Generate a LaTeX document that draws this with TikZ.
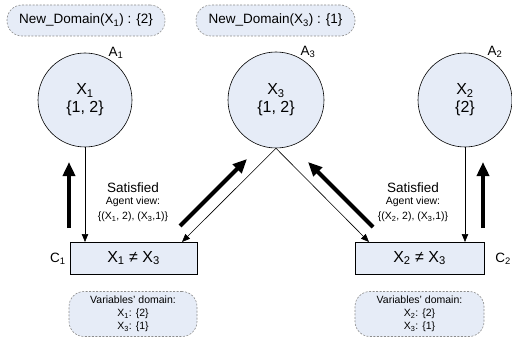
\documentclass[tikz,border=0pt]{standalone}
\usepackage{fontspec}
\setmainfont{Liberation Sans}
\usetikzlibrary{arrows.meta}
\definecolor{nodefill}{RGB}{230,236,247}
\definecolor{pillborder}{RGB}{140,140,140}
\tikzset{
  agent/.style={circle, draw=black, fill=nodefill, line width=0.6pt, minimum size=94pt, inner sep=0pt, align=center, font=\fontsize{16}{19}\selectfont},
  cbox/.style={rectangle, draw=black, fill=nodefill, line width=0.6pt, minimum width=127pt, minimum height=32pt, inner sep=0pt, font=\fontsize{16}{19}\selectfont},
  pill/.style={rectangle, rounded corners=15pt, draw=pillborder, dashed, dash pattern=on 2pt off 1.5pt, fill=nodefill, line width=0.6pt, inner sep=0pt, align=center},
  lbl/.style={inner sep=0pt, font=\fontsize{13.5}{16}\selectfont},
  thin/.style={line width=0.6pt, -{Triangle[length=8pt,width=6.5pt]}},
  thick/.style={line width=4pt, -{Triangle[length=14pt,width=12pt]}},
  msg/.style={inner sep=0pt, align=center},
}
\begin{document}
\begin{tikzpicture}[x=1pt,y=-1pt]
\useasboundingbox (0,0) rectangle (512,337);
% top pills
\node[pill, minimum width=158pt, minimum height=31pt, font=\fontsize{13.5}{16}\selectfont] (nd1) at (86,20.5) {New\_Domain(X\textsubscript{1}) : \{2\}};
\node[pill, minimum width=159pt, minimum height=31pt, font=\fontsize{13.5}{16}\selectfont] (nd3) at (275.5,20.5) {New\_Domain(X\textsubscript{3}) : \{1\}};
% agents
\node[agent] (x1) at (85,100) {X\textsubscript{1}\\[-1pt]\{1, 2\}};
\node[agent, minimum size=96pt] (x3) at (276,100) {X\textsubscript{3}\\[-1pt]\{1, 2\}};
\node[agent] (x2) at (465,100) {X\textsubscript{2}\\[-1pt]\{2\}};
\node[lbl] (a1) at (116,53) {A\textsubscript{1}};
\node[lbl] (a3) at (308,52) {A\textsubscript{3}};
\node[lbl] (a2) at (495,52) {A\textsubscript{2}};
% constraint boxes
\node[cbox] (c1) at (133.5,258) {X\textsubscript{1} ≠ X\textsubscript{3}};
\node[cbox, minimum width=129pt] (c2) at (419.5,258) {X\textsubscript{2} ≠ X\textsubscript{3}};
\node[lbl] (c1l) at (58,259) {C\textsubscript{1}};
\node[lbl] (c2l) at (503,259) {C\textsubscript{2}};
% bottom pills
\node[pill, minimum width=128pt, minimum height=45pt, font=\fontsize{10.5}{13}\selectfont] (vd1) at (133,314) {Variables' domain:\\X\textsubscript{1}: \{2\}\\X\textsubscript{3}: \{1\}};
\node[pill, minimum width=129pt, minimum height=45pt, font=\fontsize{10.5}{13}\selectfont] (vd2) at (419.5,314) {Variables' domain:\\X\textsubscript{2}: \{2\}\\X\textsubscript{3}: \{1\}};
% connectors
\coordinate (c1a) at (85,242);
\coordinate (c1b) at (182,242);
\coordinate (c2a) at (369,242);
\coordinate (c2b) at (465,242);
\draw[thin] (x1.south) -- (c1a);
\draw[thin] (x3.south) -- (c1b);
\draw[thin] (x3.south) -- (c2a);
\draw[thin] (x2.south) -- (c2b);
% thick message arrows
\coordinate (t1s) at (69,228); \coordinate (t1e) at (69,162);
\coordinate (t2s) at (180,226); \coordinate (t2e) at (247,159);
\coordinate (t3s) at (373,227); \coordinate (t3e) at (308,162);
\coordinate (t4s) at (483,228); \coordinate (t4e) at (483,162);
\draw[thick] (t1s) -- (t1e);
\draw[thick] (t2s) -- (t2e);
\draw[thick] (t3s) -- (t3e);
\draw[thick] (t4s) -- (t4e);
% messages
\node[msg, font=\fontsize{13.5}{16}\selectfont] (s1) at (133,188) {Satisfied};
\node[msg, font=\fontsize{10.5}{13}\selectfont] (v1) at (133,202) {Agent view:};
\node[msg, font=\fontsize{10.5}{13}\selectfont] (w1) at (133,217) {\{(X\textsubscript{1}, 2), (X\textsubscript{3},1)\}};
\node[msg, font=\fontsize{13.5}{16}\selectfont] (s2) at (413,188) {Satisfied};
\node[msg, font=\fontsize{10.5}{13}\selectfont] (v2) at (413,202) {Agent view:};
\node[msg, font=\fontsize{10.5}{13}\selectfont] (w2) at (413,217) {\{(X\textsubscript{2}, 2), (X\textsubscript{3},1)\}};
\end{tikzpicture}
\end{document}
